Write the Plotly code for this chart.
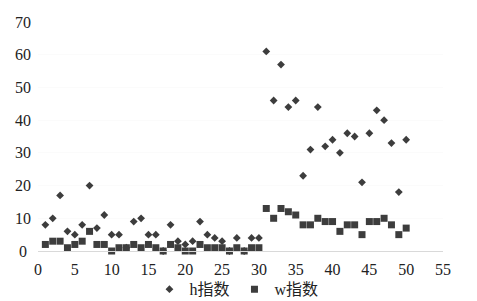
import plotly.graph_objects as go

x_vals = list(range(1, 51))
h_index = [8, 10, 17, 6, 5, 8, 20, 7, 11, 5,
           5, 1, 9, 10, 5, 5, 0, 8, 3, 2,
           3, 9, 5, 4, 3, 0, 4, 0, 4, 4,
           61, 46, 57, 44, 46, 23, 31, 44, 32, 34,
           30, 36, 35, 21, 36, 43, 40, 33, 18, 34]
w_index = [2, 3, 3, 1, 2, 3, 6, 2, 2, 0,
           1, 1, 2, 1, 2, 1, 0, 2, 1, 0,
           0, 2, 1, 1, 1, 0, 1, 0, 1, 1,
           13, 10, 13, 12, 11, 8, 8, 10, 9, 9,
           6, 8, 8, 5, 9, 9, 10, 8, 5, 7]
series_names = ["h指数", "w指数"]
x_ticks = list(range(0, 56, 5))
y_ticks = list(range(0, 71, 10))
y_tick_labels = ["0\u2008", "10", "20", "30", "40", "50", "60", "70"]

font_family = "Liberation Serif, Times New Roman, Noto Sans CJK SC, serif"
mark_color = "#3d3d3d"

fig = go.Figure()
fig.add_trace(go.Scatter(
    x=x_vals, y=h_index, mode="markers", name=series_names[0],
    marker=dict(symbol="diamond", size=6, color=mark_color,
                line=dict(width=0)),
    cliponaxis=False))
fig.add_trace(go.Scatter(
    x=x_vals, y=w_index, mode="markers", name=series_names[1],
    marker=dict(symbol="square", size=7, color=mark_color,
                line=dict(width=0)),
    cliponaxis=False))

fig.update_layout(
    width=469, height=293,
    margin=dict(l=30, r=34, t=14, b=50, autoexpand=False),
    paper_bgcolor="white", plot_bgcolor="white",
    font=dict(family=font_family, size=16, color="#222222"),
    showlegend=True,
    legend=dict(orientation="h", x=0.49, xanchor="center",
                y=-0.167, yanchor="middle",
                font=dict(family=font_family, size=16, color="#222222"),
                itemwidth=30, tracegroupgap=0,
                bgcolor="rgba(0,0,0,0)"),
    xaxis=dict(range=[0, 55], tickvals=x_ticks, ticktext=[str(v) for v in x_ticks],
               showgrid=False, zeroline=False, showline=True,
               linecolor="#d9d9d9", linewidth=1, ticks="",
               ticklabelstandoff=4, fixedrange=True, automargin=False),
    yaxis=dict(range=[0, 70], tickvals=y_ticks, ticktext=y_tick_labels,
               showgrid=True, gridcolor="#fbfbfb", zeroline=False,
               showline=False, ticks="", ticklabelstandoff=6,
               fixedrange=True, automargin=False),
)

fig.write_html("out.html")
